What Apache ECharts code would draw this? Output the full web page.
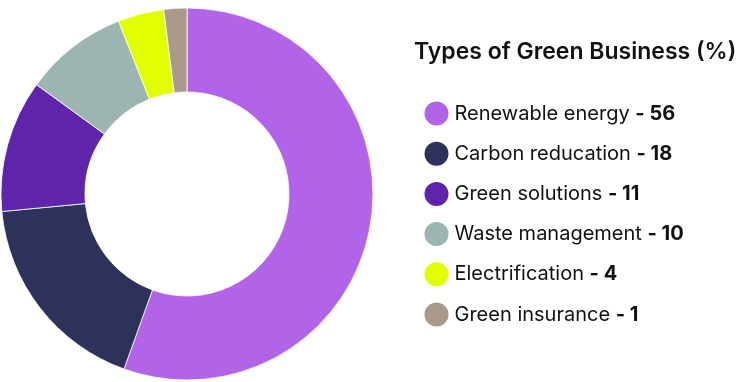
<!DOCTYPE html>
<html>
<head>
<meta charset="utf-8">
<script src="https://cdn.jsdelivr.net/npm/echarts@6/dist/echarts.min.js"></script>
<style>html,body{margin:0;padding:0;background:#fff;}#chart{width:753px;height:382px;}</style>
</head>
<body>
<div id="chart"></div>
<script>
var titleText = 'Types of Green Business (%)';
var categories = ['Renewable energy', 'Carbon reducation', 'Green solutions', 'Waste management', 'Electrification', 'Green insurance'];
var sliceValues = [55.5, 18, 11.5, 9, 4, 2];
// values as printed in the legend
var legendValues = ['56', '18', '11', '10', '4', '1'];
var colors = ['#B264E8', '#2E3159', '#6023AB', '#9DB5B2', '#E2FF00', '#A99A8C'];

var chart = echarts.init(document.getElementById('chart'));
var data = categories.map(function (c, i) {
  return { name: c, value: sliceValues[i], itemStyle: { color: colors[i] } };
});
chart.setOption({
  animation: false,
  title: {
    text: titleText,
    left: 409,
    top: 36,
    textStyle: { fontFamily: 'Inter', fontSize: 23, fontWeight: 600, color: '#111' }
  },
  legend: {
    orient: 'vertical',
    left: 417.5,
    top: 94.5,
    icon: 'circle',
    itemWidth: 26,
    itemHeight: 26,
    itemGap: 12.2,
    itemTextGap: 11.5,
    data: categories,
    formatter: function (name) {
      var i = categories.indexOf(name);
      return '{n|' + name + ' }{v|- ' + legendValues[i] + '}';
    },
    textStyle: {
      rich: {
        n: { fontFamily: 'Inter', fontSize: 20, fontWeight: 400, color: '#111', lineHeight: 26 },
        v: { fontFamily: 'Inter', fontSize: 20, fontWeight: 700, color: '#111', lineHeight: 26 }
      }
    }
  },
  series: [{
    type: 'pie',
    center: [187, 194],
    radius: [102, 186],
    startAngle: 90,
    clockwise: true,
    label: { show: false },
    labelLine: { show: false },
    emphasis: { disabled: true },
    itemStyle: { borderColor: '#fff', borderWidth: 0.8 },
    data: data
  }]
});
</script>
</body>
</html>
